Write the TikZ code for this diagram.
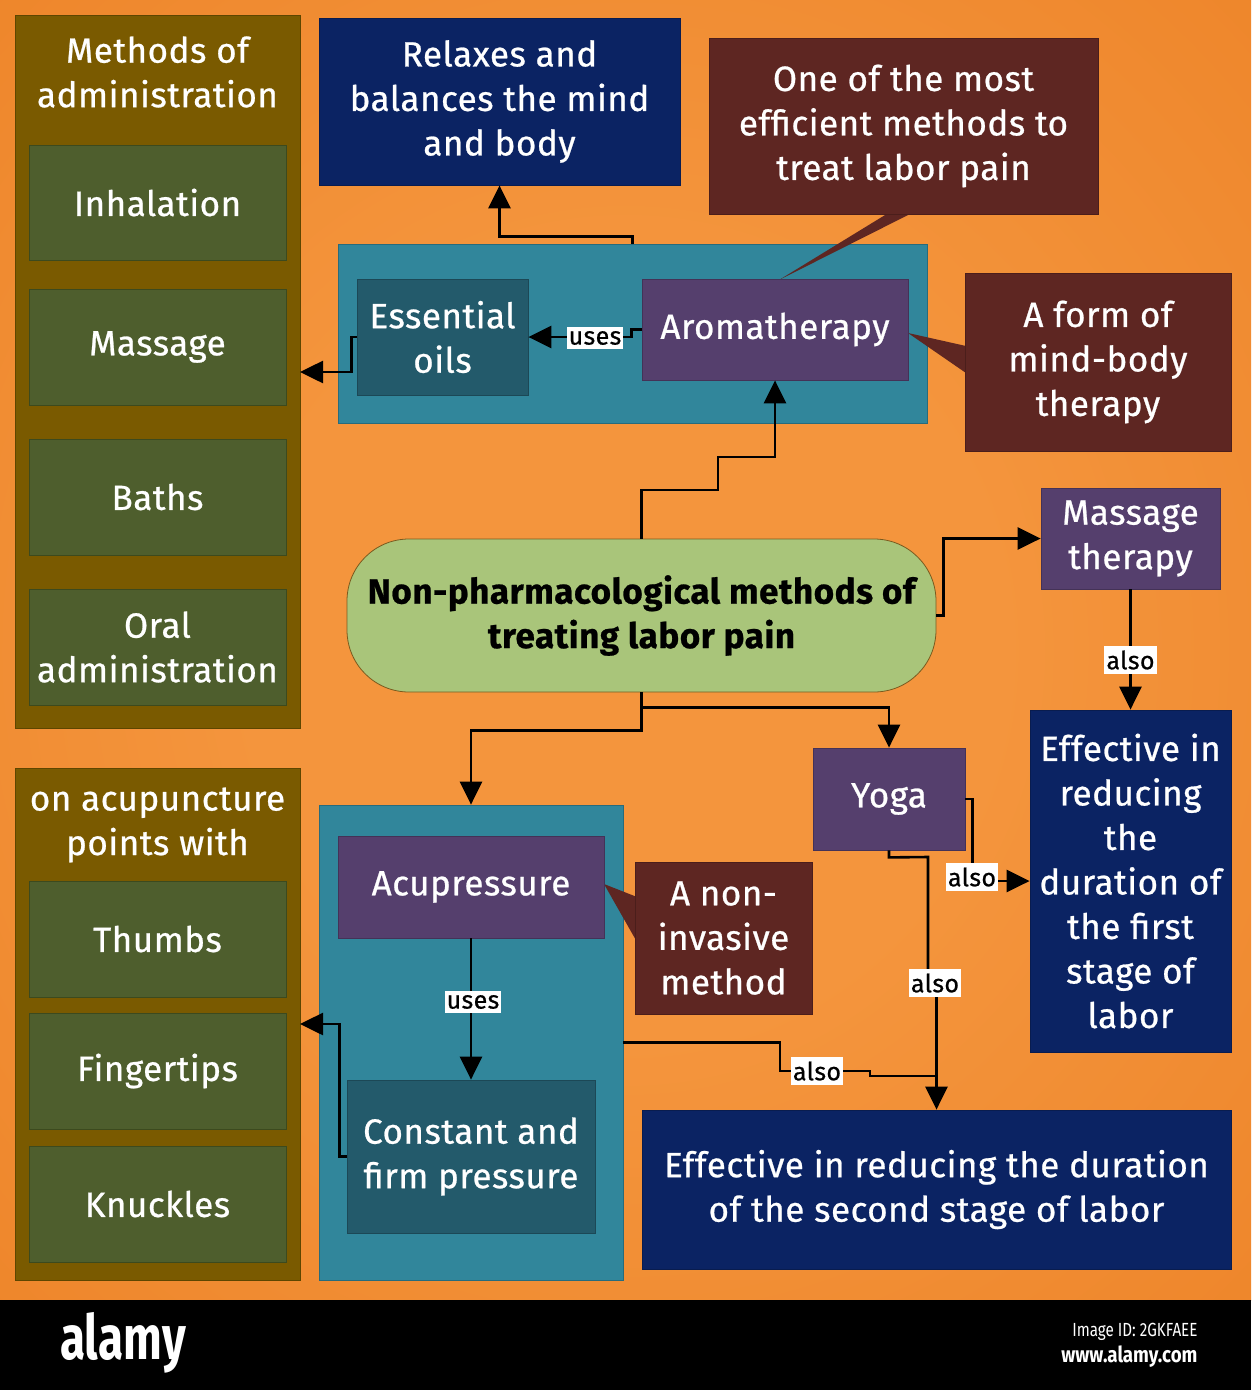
\documentclass[tikz,border=0pt]{standalone}
\usepackage{fontspec}
\usepackage{graphicx}
\setmainfont{Fira Sans}[FakeBold=0.7, LetterSpace=1.5]
\newfontfamily\plainfs{Fira Sans}
\usetikzlibrary{arrows.meta}
\definecolor{bgIn}{HTML}{F4953D}
\definecolor{bgOut}{HTML}{E46D0D}
\definecolor{oliveC}{HTML}{7A5A00}
\definecolor{oliveD}{HTML}{5E4600}
\definecolor{grnC}{HTML}{4E5E2D}
\definecolor{grnD}{HTML}{3C4A1E}
\definecolor{navyC}{HTML}{0B2363}
\definecolor{redC}{HTML}{5E2622}
\definecolor{purpC}{HTML}{553F6D}
\definecolor{tealC}{HTML}{31869B}
\definecolor{dtealC}{HTML}{235A6B}
\definecolor{pillC}{HTML}{A9C57A}
\definecolor{pillD}{HTML}{7A5A1E}
\pgfdeclareradialshading{bgshade}{\pgfpoint{0bp}{0bp}}{color(0bp)=(bgIn); color(15bp)=(bgIn); color(71bp)=(bgOut)}
\newcommand\mainfs{\fontsize{35}{44.5}\selectfont}
\tikzset{
  base/.style={rectangle, inner sep=0pt, align=center, text=white, font=\mainfs},
  olivebox/.style={base, fill=oliveC, draw=oliveD, line width=0.8pt},
  grnbox/.style={base, fill=grnC, draw=grnD, line width=0.8pt},
  navybox/.style={base, fill=navyC, draw=navyC!80!black, line width=0.8pt},
  redbox/.style={base, fill=redC, draw=redC!80!black, line width=0.8pt},
  purpbox/.style={base, fill=purpC, draw=purpC!80!black, line width=0.8pt},
  tealbox/.style={base, fill=tealC, draw=tealC!80!black, line width=0.8pt},
  dtealbox/.style={base, fill=dtealC, draw=dtealC!80!black, line width=0.8pt},
  pillbox/.style={base, fill=pillC, draw=pillD, line width=0.8pt, rounded corners=62pt, text=black, font=\fontsize{35}{44.5}\selectfont\bfseries},
  lbl/.style={fill=white, text=black, inner xsep=2pt, inner ysep=4pt, font=\fontsize{25}{26}\selectfont},
  ln/.style={line width=2.6pt, draw=black},
  arr/.style={ln, -{Triangle[length=23pt,width=22pt]}},
  tail/.style={fill=redC}
}
\begin{document}
\begin{tikzpicture}[x=1pt,y=-1pt]
\useasboundingbox (0,0) rectangle (1251,1390);
\shade[shading=bgshade] (0,0) rectangle (1251,1300);
\fill[black] (0,1300) rectangle (1251,1390);

% left column 1
\node[olivebox, minimum width=285pt, minimum height=713pt] (L1) at (157.5,371.5) {};
\node[base] (t1) at (157.5,72) {Methods of\\administration};
\node[grnbox, minimum width=257pt, minimum height=115pt] (inh) at (157.5,202.5) {Inhalation};
\node[grnbox, minimum width=257pt, minimum height=116pt] (mas) at (157.5,347) {Massage};
\node[grnbox, minimum width=257pt, minimum height=116pt] (bat) at (157.5,497) {Baths};
\node[grnbox, minimum width=257pt, minimum height=116pt] (ora) at (157.5,647) {Oral\\administration};

% left column 2
\node[olivebox, minimum width=285pt, minimum height=512pt] (L2) at (157.5,1024) {};
\node[base] (t2) at (157.5,825) {on acupuncture\\points with};
\node[grnbox, minimum width=257pt, minimum height=116pt] (thu) at (157.5,939) {Thumbs};
\node[grnbox, minimum width=257pt, minimum height=116pt] (fin) at (157.5,1071) {Fingertips};
\node[grnbox, minimum width=257pt, minimum height=116pt] (knu) at (157.5,1204) {Knuckles};

% top
\node[navybox, minimum width=361pt, minimum height=167pt] (rel) at (499.5,101.5) {Relaxes and\\balances the mind\\and body};
\node[tealbox, minimum width=589pt, minimum height=179pt] (teal1) at (632.5,333.5) {};
\fill[tail] (890,212) -- (779,280) -- (914,212) -- cycle;
\node[redbox, minimum width=389pt, minimum height=176pt] (c1) at (903.5,126) {One of the most\\efficient methods to\\treat labor pain};
\node[dtealbox, minimum width=171pt, minimum height=116pt] (oils) at (442.5,337) {Essential\\oils};
\fill[tail] (966,346) -- (908,333) -- (966,373) -- cycle;
\node[purpbox, minimum width=266pt, minimum height=101pt] (aro) at (775,329.5) {Aromatherapy};
\node[redbox, minimum width=266pt, minimum height=178pt] (c2) at (1098,362) {A form of\\mind-body\\therapy};

% center
\node[pillbox, minimum width=589pt, minimum height=153pt] (pill) at (641.5,615.5) {Non-pharmacological methods of\\treating labor pain};
\node[purpbox, minimum width=179pt, minimum height=101pt] (mth) at (1130.5,538.5) {Massage\\therapy};
\node[navybox, minimum width=201pt, minimum height=342pt] (eff1) at (1130.5,881) {Effective in\\reducing\\the\\duration of\\the first\\stage of\\labor};
\node[purpbox, minimum width=152pt, minimum height=102pt] (yoga) at (889,799) {Yoga};

% bottom
\node[tealbox, minimum width=304pt, minimum height=475pt] (teal2) at (471,1042.5) {};
\fill[tail] (637,897) -- (604,884) -- (637,942) -- cycle;
\node[purpbox, minimum width=266pt, minimum height=102pt] (acu) at (471,887) {Acupressure};
\node[dtealbox, minimum width=248pt, minimum height=153pt] (con) at (471,1156.5) {Constant and\\firm pressure};
\node[redbox, minimum width=177pt, minimum height=152pt] (c3) at (723.5,938) {A non-\\invasive\\method};
\node[navybox, minimum width=589pt, minimum height=159pt] (eff2) at (936.5,1189.5) {Effective in reducing the duration\\of the second stage of labor};

% free ends on the containers
\coordinate (L1in) at (300,372);
\coordinate (L2in) at (300,1024);

% connectors
\draw[arr] (aro.west) -- ++(-10,0) |- (oils.east);
\node[lbl] at (595,338) {uses};
\draw[arr] (oils.west) -- ++(-5,0) |- (L1in);
\draw[arr] (teal1.north) -- ++(0,-7) -| (rel.south);
\draw[arr] (pill.north) -- (641.5,490) -- (718,490) -- (718,457) -| (aro.south);
\draw[arr] (pill.east) -- ++(7,0) |- (mth.west);
\draw[arr] (mth.south) -- (eff1.north);
\node[lbl] at (1130.5,660) {also};
\draw[arr] (pill.south) -- ++(0,15) -| (yoga.north);
\draw[arr] (pill.south) -- ++(0,38) -| (teal2.north);
\draw[arr] (yoga.east) -- ++(7,0) |- (eff1.west);
\node[lbl] at (972,877) {also};
\draw[ln] (yoga.south) -- ++(0,7) -- (928,857) -- (928,975) -- (936.5,975);
\draw[arr] (936.5,975) -- (eff2.north);
\node[lbl] at (935,983) {also};
\draw[ln] (teal2.east) -- (780,1042.5) -- (780,1071) -- (870,1071) -- (870,1076) -- (936.5,1076);
\node[lbl] at (817,1071) {also};
\draw[arr] (acu.south) -- (con.north);
\node[lbl] at (473,1002) {uses};
\draw[arr] (con.west) -- ++(-7,0) |- (L2in);

% footer
\node[text=white, font=\plainfs\fontsize{62}{62}\selectfont\bfseries] (logo) at (123,1343) {\scalebox{0.74}[1]{alamy}};
\node[text=white, anchor=east, font=\plainfs\fontsize{19}{20}\selectfont] (iid) at (1201,1332) {\scalebox{0.8}[1]{Image ID: 2GKFAEE}};
\node[text=white, anchor=east, font=\plainfs\fontsize{22}{23}\selectfont\bfseries] (www) at (1201,1357) {\scalebox{0.85}[1]{www.alamy.com}};
\end{tikzpicture}
\end{document}
